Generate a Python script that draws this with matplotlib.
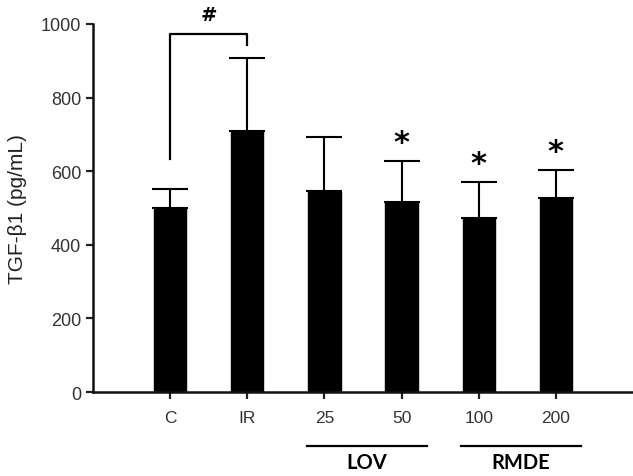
import matplotlib
matplotlib.use("Agg")
import matplotlib.pyplot as plt

categories = ["C", "IR", "25", "50", "100", "200"]
means = [500, 708, 547, 517, 472, 527]
errors = [52, 200, 147, 110, 98, 75]
star_flags = [False, False, False, True, True, True]
groups = [("LOV", 3, 4), ("RMDE", 5, 6)]
y_ticks = [0, 200, 400, 600, 800, 1000]

plt.rcParams['font.family'] = ['Liberation Sans', 'DejaVu Sans']

fig = plt.figure(figsize=(6.33, 4.77), dpi=100)
ax = fig.add_axes([93/633, 1 - 393/477, 1 - 93/633, (393 - 25)/477])

x = list(range(1, len(categories) + 1))
ax.bar(x, means, width=0.42, color="black", edgecolor="black", zorder=2)
ax.errorbar(x, means, yerr=[[0]*len(errors), errors], fmt="none", ecolor="black",
            elinewidth=1.5, capsize=13, capthick=1.5, zorder=1)

ax.set_xlim(0, 7)
ax.set_ylim(0, 1000)
ax.set_yticks(y_ticks)
ax.set_yticklabels([str(t) for t in y_ticks], fontsize=13, color="#333333")
ax.set_xticks(x)
ax.set_xticklabels(categories, fontsize=12.5, color="#333333")
ax.tick_params(axis="both", direction="out", length=5, width=1.6, colors="#222222")
ax.tick_params(axis="x", pad=8)
for lab in ax.get_yticklabels() + ax.get_xticklabels():
    lab.set_color("#333333")
for s in ["top", "right"]:
    ax.spines[s].set_visible(False)
for s in ["left", "bottom"]:
    ax.spines[s].set_linewidth(1.8)
    ax.spines[s].set_color("#111111")

ax.set_ylabel("TGF-β1 (pg/mL)", fontsize=15, color="#222222", labelpad=10)

# significance bracket C vs IR
ax.plot([1, 1, 2, 2], [633, 973, 973, 944], color="black", lw=1.6, clip_on=False)
ax.text(1.5, 1000, "#", ha="center", va="bottom", fontsize=14, fontweight="bold",
        family="DejaVu Sans", clip_on=False)

# stars
for xi, m, e, f in zip(x, means, errors, star_flags):
    if f:
        ax.text(xi, m + e + 12, "*", ha="center", va="bottom", fontsize=22,
                fontweight="bold", family="DejaVu Sans")

# group lines and labels
for name, a, b in groups:
    ax.plot([a - 0.23, b + 0.33], [-0.148, -0.148], transform=ax.get_xaxis_transform(),
            color="black", lw=1.6, clip_on=False)
    ax.text((a + b) / 2 + 0.05, -0.19, name, transform=ax.get_xaxis_transform(),
            ha="center", va="center", fontsize=14.5, fontweight="bold",
            family=["Lato", "DejaVu Sans"])

fig.savefig("out.png", dpi=100)
